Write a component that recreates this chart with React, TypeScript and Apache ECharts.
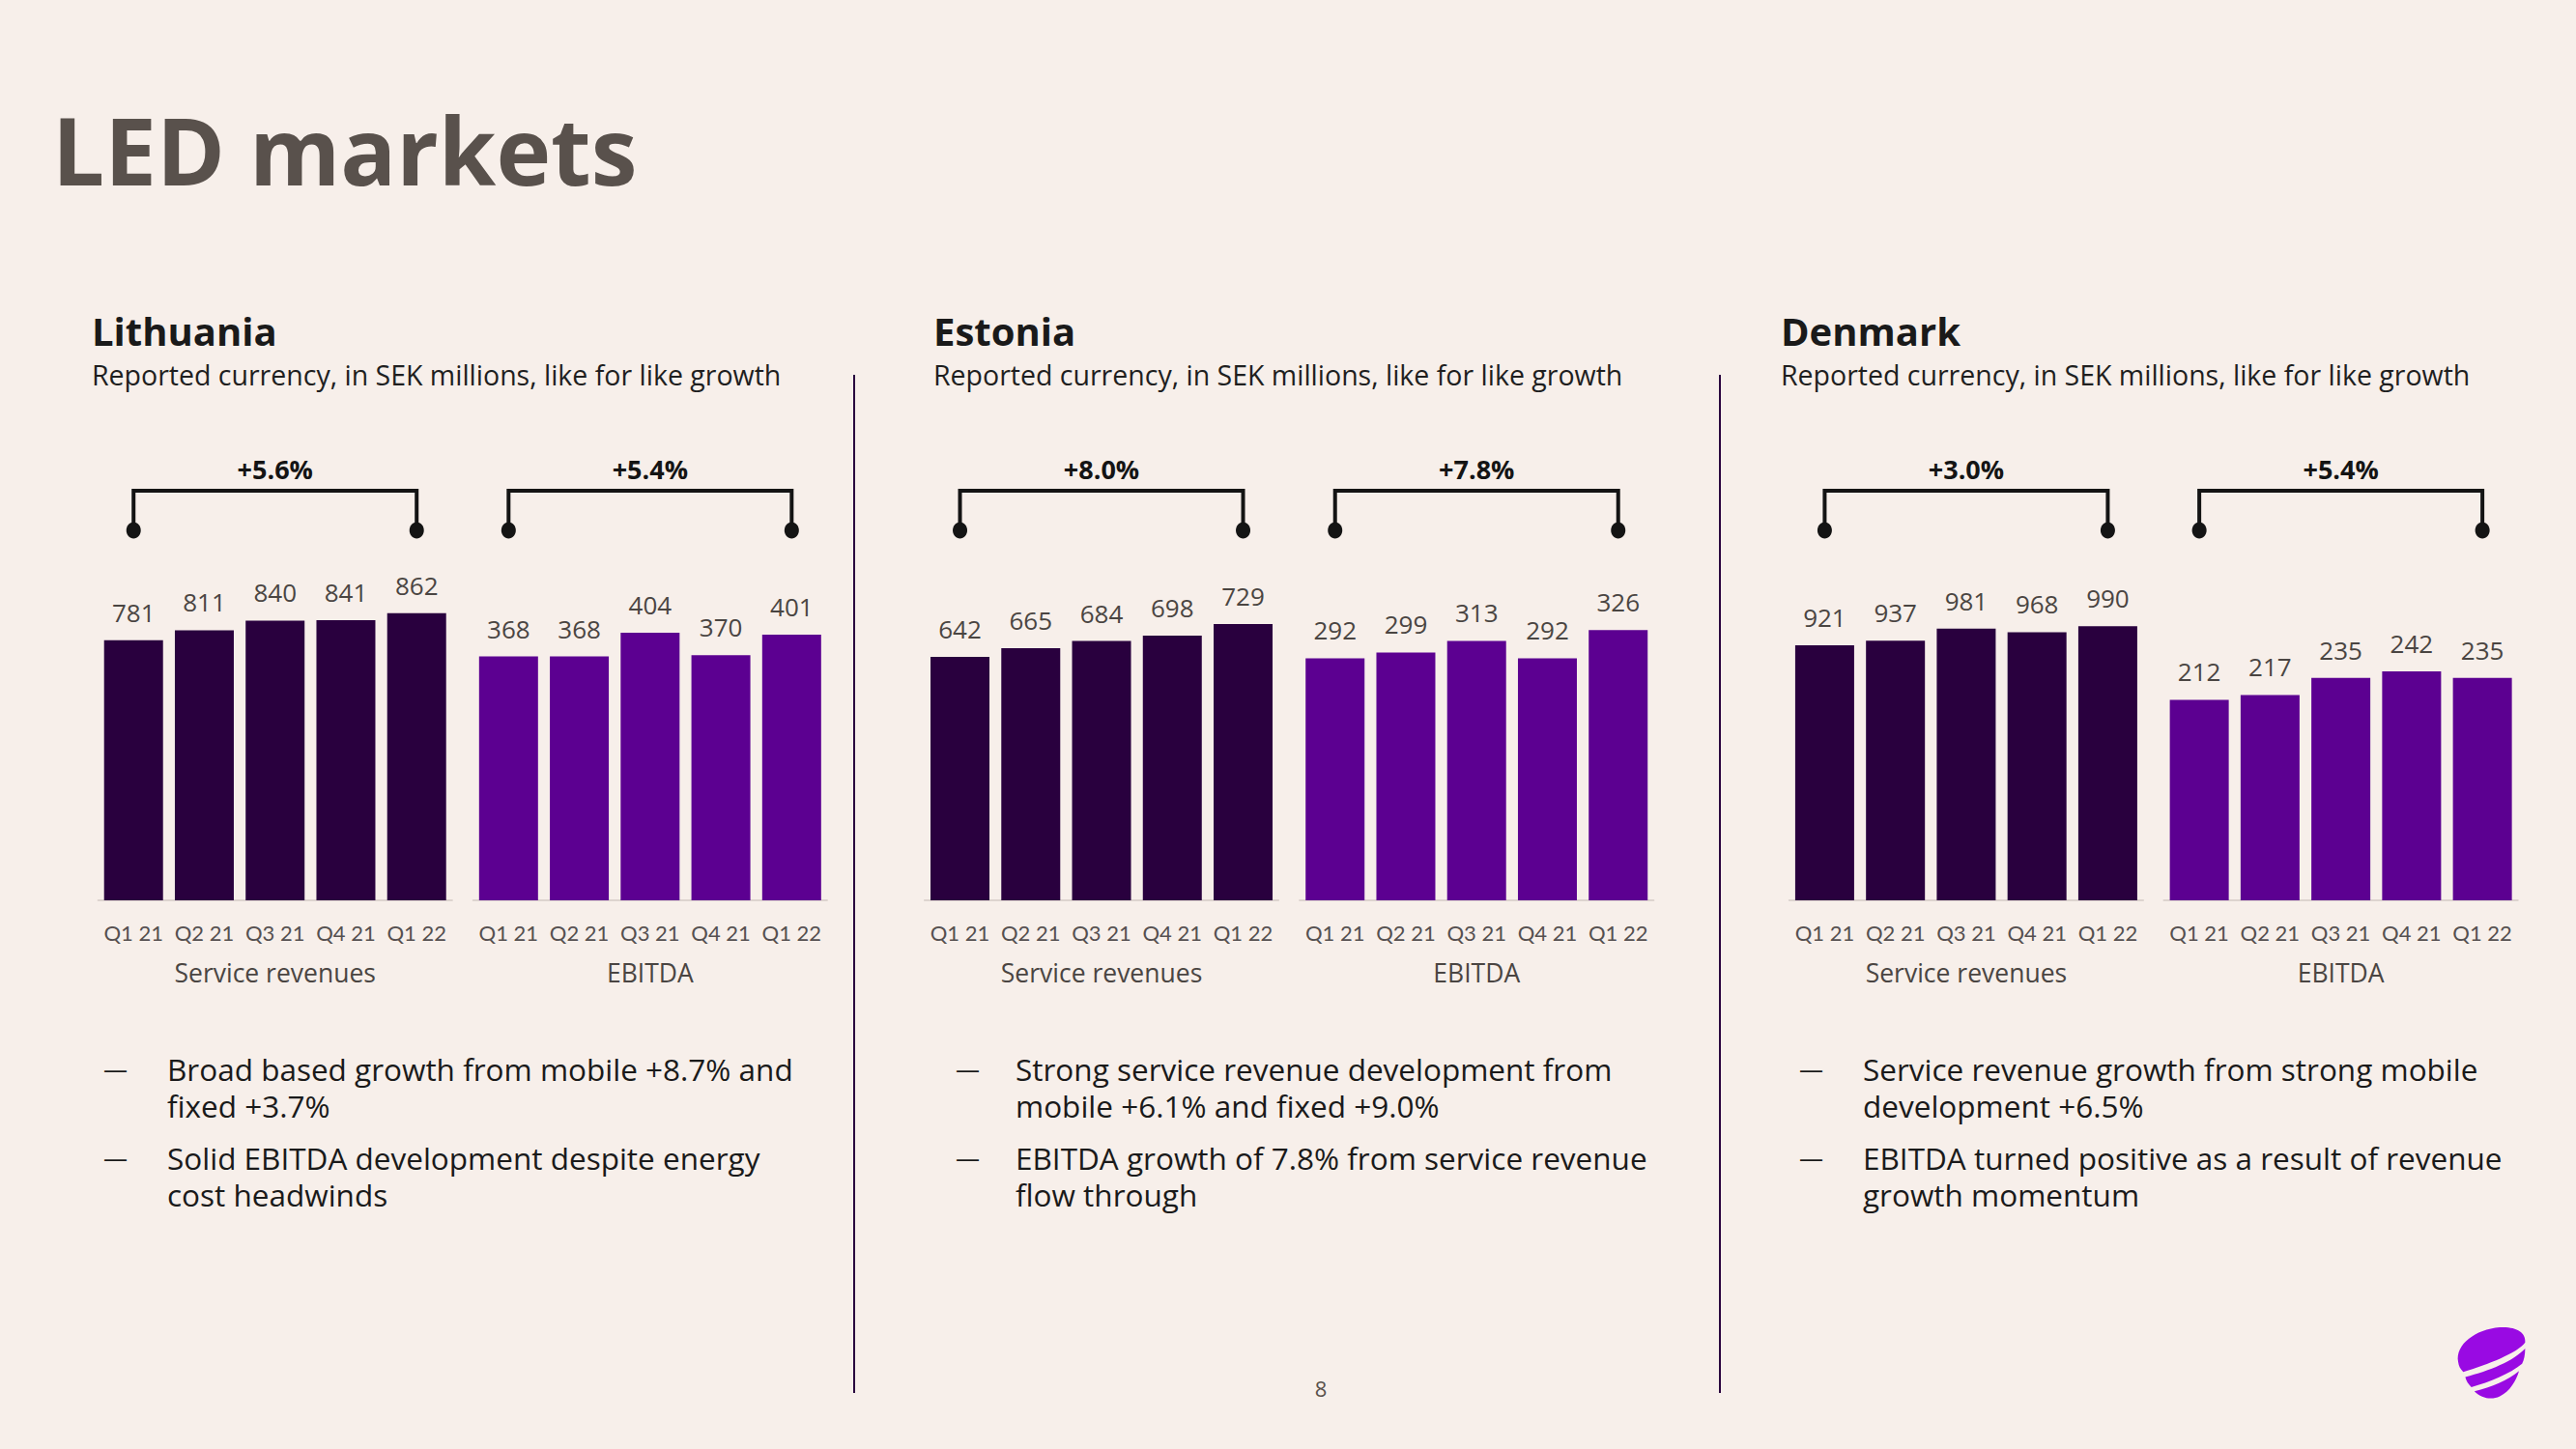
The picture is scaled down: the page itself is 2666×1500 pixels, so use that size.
import React, { useEffect, useRef } from "react";
import * as echarts from "echarts";

// ---------- data ----------
const quarters = ["Q1 21", "Q2 21", "Q3 21", "Q4 21", "Q1 22"];
const countries = ["Lithuania", "Estonia", "Denmark"];
const subtitleText = "Reported currency, in SEK millions, like for like growth";
const metricNames = ["Service revenues", "EBITDA"];
const lithuaniaServiceRevenues = [781, 811, 840, 841, 862];
const lithuaniaEbitda = [368, 368, 404, 370, 401];
const estoniaServiceRevenues = [642, 665, 684, 698, 729];
const estoniaEbitda = [292, 299, 313, 292, 326];
const denmarkServiceRevenues = [921, 937, 981, 968, 990];
const denmarkEbitda = [212, 217, 235, 242, 235];
const growthLabels = ["+5.6%", "+5.4%", "+8.0%", "+7.8%", "+3.0%", "+5.4%"];
// each panel has its own value scale
const axisMax = [963, 484, 846, 387, 1158, 339];
const lithuaniaBullets = [
  ["Broad based growth from mobile +8.7% and", "fixed +3.7%"],
  ["Solid EBITDA development despite energy", "cost headwinds"],
];
const estoniaBullets = [
  ["Strong service revenue development from", "mobile +6.1% and fixed +9.0%"],
  ["EBITDA growth of 7.8% from service revenue", "flow through"],
];
const denmarkBullets = [
  ["Service revenue growth from strong mobile", "development +6.5%"],
  ["EBITDA turned positive as a result of revenue", "growth momentum"],
];
const pageTitle = "LED markets";
const pageNumber = "8";

// ---------- style / layout ----------
const FONT = "Open Sans";
const TICKFONT = "Lato";
const BG = "#F7EFEA";
const DARK = "#29003E";
const PURPLE = "#5C0091";
const LOGO = "#990AE3";

const logoPath =
  "M1,35 C-2,18 18,3 42,1 C58,0 68,6 67,16 C60,26 30,38 6,45 C3,42 1.5,39 1,35 Z " +
  "M8,50 C32,44 56,34 67,22 C67,28 66,33 64,37 C52,47 32,55 14,60 C11,57 9,54 8,50 Z " +
  "M17,64 C34,60 50,53 61,44 C58,54 52,64 42,69 C34,73 24,71 17,64 Z";
echarts.graphic.registerShape("logo", echarts.graphic.extendPath(logoPath, {}));

const seriesData = [
  lithuaniaServiceRevenues,
  lithuaniaEbitda,
  estoniaServiceRevenues,
  estoniaEbitda,
  denmarkServiceRevenues,
  denmarkEbitda,
];
const bulletsByCountry = [lithuaniaBullets, estoniaBullets, denmarkBullets];

const gridLefts = [101.6, 489.7, 956.9, 1345.1, 1851.8, 2239.5];
const gridWidth = 366.25;
const baseY = 932;
const gridTop = 600;
const headingX = [95, 966, 1843];
const dashX = [107, 989, 1862];
const bulletX = [173, 1051, 1928];

export default function App() {
  const ref = useRef<HTMLDivElement>(null);
  useEffect(() => {
    document.body.style.margin = "0";
    document.body.style.background = BG;
    const chart = echarts.init(ref.current!, undefined, { renderer: "svg" });

    const grids = gridLefts.map((l) => ({
      left: l,
      width: gridWidth,
      top: gridTop,
      height: baseY - gridTop,
    }));
    const xAxes = gridLefts.map((_, i) => ({
      type: "category",
      gridIndex: i,
      data: quarters,
      axisLine: { lineStyle: { color: "#DDD4CF", width: 2 } },
      axisTick: { show: false },
      axisLabel: {
        interval: 0,
        margin: 22,
        fontSize: 22,
        color: "#555050",
        fontFamily: TICKFONT,
      },
      name: metricNames[i % 2],
      nameLocation: "middle",
      nameGap: 61,
      nameTextStyle: { fontSize: 26.5, color: "#4A4542", fontFamily: FONT },
    }));
    const yAxes = gridLefts.map((_, i) => ({
      type: "value",
      gridIndex: i,
      min: 0,
      max: axisMax[i],
      show: false,
      splitLine: { show: false },
    }));
    const series = seriesData.map((d, i) => ({
      type: "bar",
      xAxisIndex: i,
      yAxisIndex: i,
      data: d,
      barWidth: 61,
      itemStyle: { color: i % 2 === 0 ? DARK : PURPLE },
      label: {
        show: true,
        position: "top",
        distance: 16,
        fontSize: 26,
        color: "#4A4542",
        fontFamily: FONT,
      },
    }));

    chart.setOption({
      animation: false,
      backgroundColor: BG,
      grid: grids,
      xAxis: xAxes,
      yAxis: yAxes,
      series,
    });

    const g: any[] = [];
    g.push({
      type: "text",
      x: 54,
      y: 154,
      style: {
        text: pageTitle,
        fontSize: 96,
        fontWeight: "bold",
        fontFamily: FONT,
        fill: "#59514C",
        verticalAlign: "middle",
      },
    });
    countries.forEach((c, k) => {
      g.push({
        type: "text",
        x: headingX[k],
        y: 342,
        style: {
          text: c,
          fontSize: 40,
          fontWeight: "bold",
          fontFamily: FONT,
          fill: "#1A1A1A",
          verticalAlign: "middle",
        },
      });
      g.push({
        type: "text",
        x: headingX[k],
        y: 387.5,
        style: {
          text: subtitleText,
          fontSize: 28.5,
          fontFamily: FONT,
          fill: "#1F1F1F",
          verticalAlign: "middle",
        },
      });
      const bl = bulletsByCountry[k];
      const starts = [1106, 1198];
      bl.forEach((lines, b) => {
        g.push({
          type: "text",
          x: dashX[k],
          y: starts[b],
          style: {
            text: "—",
            fontSize: 25,
            fontFamily: FONT,
            fill: "#1A1A1A",
            verticalAlign: "middle",
          },
        });
        lines.forEach((ln, li) => {
          g.push({
            type: "text",
            x: bulletX[k],
            y: starts[b] + li * 38,
            style: {
              text: ln,
              fontSize: 31.5,
              fontFamily: FONT,
              fill: "#1A1A1A",
              verticalAlign: "middle",
            },
          });
        });
      });
    });
    // brackets
    seriesData.forEach((_, i) => {
      const x1 = chart.convertToPixel({ xAxisIndex: i }, 0) as number;
      const x2 = chart.convertToPixel({ xAxisIndex: i }, quarters.length - 1) as number;
      g.push({
        type: "polyline",
        shape: { points: [[x1, 549], [x1, 508], [x2, 508], [x2, 549]] },
        style: { stroke: "#141414", lineWidth: 4, fill: null },
      });
      [x1, x2].forEach((x) =>
        g.push({
          type: "ellipse",
          shape: { cx: x, cy: 549, rx: 7.5, ry: 8.5 },
          style: { fill: "#141414" },
        })
      );
      g.push({
        type: "text",
        x: (x1 + x2) / 2,
        y: 485,
        style: {
          text: growthLabels[i],
          fontSize: 27,
          fontWeight: "bold",
          fontFamily: FONT,
          fill: "#141414",
          align: "center",
          verticalAlign: "middle",
        },
      });
    });
    // dividers
    [884, 1780].forEach((x) =>
      g.push({
        type: "line",
        shape: { x1: x, y1: 388, x2: x, y2: 1442 },
        style: { stroke: DARK, lineWidth: 2 },
      })
    );
    g.push({
      type: "text",
      x: 1367,
      y: 1437,
      style: {
        text: pageNumber,
        fontSize: 22,
        fontFamily: FONT,
        fill: "#59514C",
        align: "center",
        verticalAlign: "middle",
      },
    });
    g.push({
      type: "logo",
      x: 2543,
      y: 1373,
      scaleX: 1.05,
      scaleY: 1.05,
      style: { fill: LOGO },
    });
    chart.setOption({ graphic: g });

    return () => chart.dispose();
  }, []);
  return (
    <div
      ref={ref}
      style={{ position: "absolute", left: 0, top: 0, width: 2666, height: 1500 }}
    />
  );
}
